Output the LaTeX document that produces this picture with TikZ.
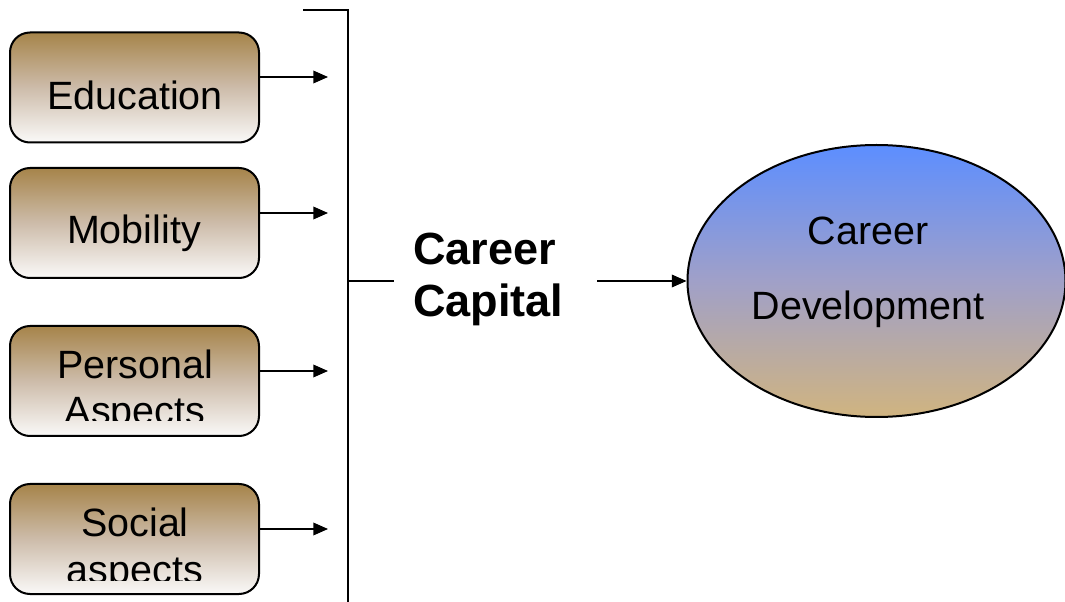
\documentclass[tikz,border=0pt]{standalone}
\usepackage{fontspec}
\setmainfont{Liberation Sans}
\usetikzlibrary{arrows.meta,shapes.geometric}
\definecolor{tan}{RGB}{166,132,74}
\definecolor{tanmid}{RGB}{205,188,170}
\definecolor{paper}{RGB}{250,249,248}
\definecolor{skyblue}{RGB}{92,142,255}
\definecolor{lilac}{RGB}{160,160,200}
\definecolor{sand}{RGB}{208,180,128}
\tikzset{
  factor/.style={draw=black, line width=1.5pt, rounded corners=15pt,
    top color=tan, bottom color=paper, middle color=tanmid,
    minimum width=186.75pt, minimum height=82.5pt, inner sep=0pt},
  label/.style={font=\fontsize{29.6pt}{34.5pt}\selectfont, inner sep=0pt, anchor=base},
  feed/.style={line width=1pt, -{Triangle[length=11pt,width=9.5pt]}},
  rule/.style={line width=1pt},
  capital/.style={font=\bfseries\fontsize{33.8pt}{39pt}\selectfont, inner sep=0pt, anchor=base west},
}
\begin{document}
\begin{tikzpicture}[x=0.75pt,y=-0.75pt]
\useasboundingbox (0,0) rectangle (1065,602);

% input factors
\node[factor] (edu) at (134.5,87.5) {};
\node[factor] (mob) at (134.5,223) {};
\node[factor] (per) at (134.5,381) {};
\node[factor] (soc) at (134.5,539) {};

\node[label] (eduT) at (135,110) {Education};
\node[label] (mobT) at (134,243.5) {Mobility};
\begin{scope}
  \clip (12,328) rectangle (257,421);
  \node[label] (perT1) at (135,379) {Personal};
  \node[label] (perT2) at (135,425) {Aspects};
\end{scope}
\begin{scope}
  \clip (12,486) rectangle (257,580);
  \node[label] (socT1) at (135,537) {Social};
  \node[label] (socT2) at (135,583) {aspects};
\end{scope}

% arrow tips in front of the bracket
\coordinate (eduE) at (328,77);
\coordinate (mobE) at (328,213);
\coordinate (perE) at (328,371);
\coordinate (socE) at (328,529);
\draw[feed] (edu.east |- eduE) -- (eduE);
\draw[feed] (mob.east |- mobE) -- (mobE);
\draw[feed] (per.east |- perE) -- (perE);
\draw[feed] (soc.east |- socE) -- (socE);

% bracket collecting the factors
\coordinate (bTopL) at (303,10);
\coordinate (bTop) at (348,10);
\coordinate (bBot) at (348,602);
\coordinate (bMid) at (348,281);
\coordinate (bOut) at (394,281);
\draw[rule] (bTopL) -- (bTop) -- (bBot);
\draw[rule] (bMid) -- (bOut);

% career capital
\node[capital] (cc1) at (413,265) {Career};
\node[capital] (cc2) at (413,317) {Capital};

% outcome
\node[ellipse, draw=black, line width=1.5pt, top color=skyblue, bottom color=sand, middle color=lilac,
  minimum width=283.5pt, minimum height=204pt, inner sep=0pt] (dev) at (876.5,281) {};
\node[label] (devT1) at (868,245) {Career};
\node[label] (devT2) at (868,320) {Development};

\coordinate (ccOut) at (597,281);
\draw[feed] (ccOut) -- (dev.west);
\end{tikzpicture}
\end{document}
